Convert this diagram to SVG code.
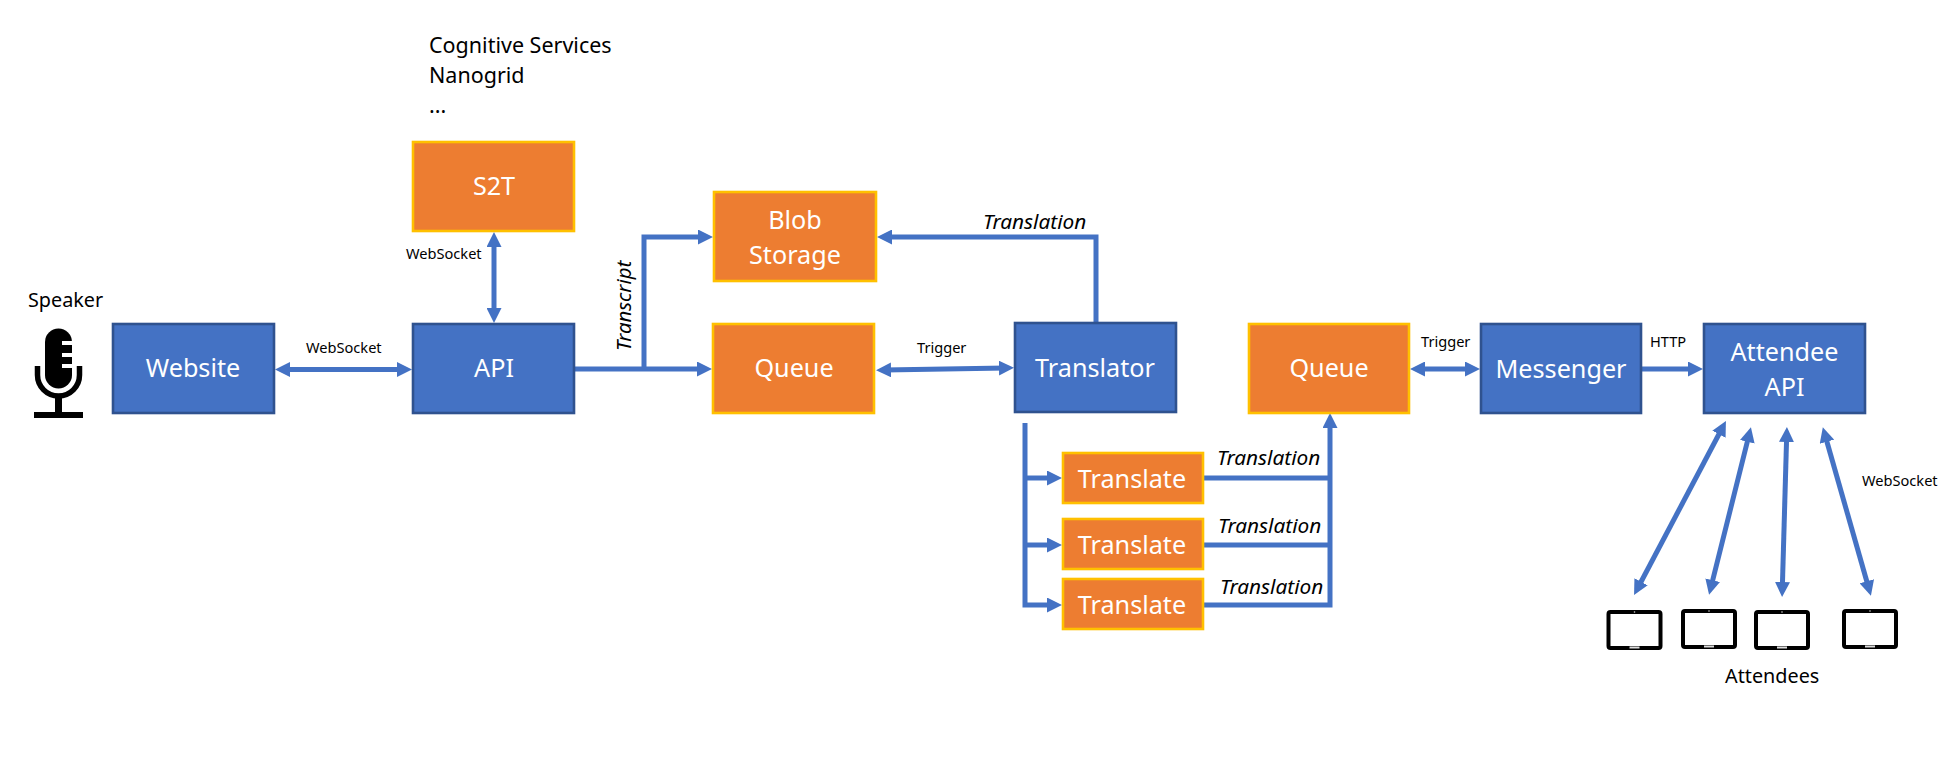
<svg xmlns="http://www.w3.org/2000/svg" width="1954" height="759" viewBox="0 0 1954 759">
<style>
text{font-family:"Noto Sans","Open Sans","Liberation Sans",sans-serif;fill:#000}
.b{fill:#4472C4;stroke:#2F528F;stroke-width:2.6}
.o{fill:#ED7D31;stroke:#FFC000;stroke-width:2.6}
.n{font-size:25.2px;fill:#fff;text-anchor:middle}
.s{font-size:14.6px}
.m{font-size:19.8px}
.l{font-size:21.5px}
.i{font-size:20.8px;font-style:italic}
.c{fill:none;stroke:#4472C4;stroke-width:5}
.e{marker-end:url(#a)}
.d{marker-start:url(#a);marker-end:url(#a)}
</style>
<defs>
<marker id="a" markerUnits="userSpaceOnUse" viewBox="0 0 15 15" markerWidth="15" markerHeight="15" refX="7" refY="7.5" orient="auto-start-reverse"><path d="M0,0L15,7.5L0,15z" fill="#4472C4"/></marker>
<g id="tablet"><rect x="2" y="2" width="52" height="36" rx="2" fill="#fff" stroke="#000" stroke-width="4"/><circle cx="28" cy="2" r="0.8" fill="#ccc"/><rect x="23" y="36.5" width="10" height="2" fill="#ddd"/></g>
</defs>
<g id="connectors">
<path class="c d" d="M283,369.5H404"/>
<path class="c d" d="M494,240V315"/>
<path class="c e" d="M575,369H704"/>
<path class="c e" d="M644,369V237H705"/>
<path class="c d" d="M884,370L1006,368"/>
<path class="c e" d="M1096,322V237H885"/>
<path class="c e" d="M1025,423V605H1054"/>
<path class="c e" d="M1025,478H1054"/>
<path class="c e" d="M1025,545H1054"/>
<path class="c e" d="M1204,605H1330V421"/>
<path class="c" d="M1204,478H1330"/>
<path class="c" d="M1204,545H1330"/>
<path class="c d" d="M1418,369H1472"/>
<path class="c e" d="M1641,369H1695"/>
<path class="c d" d="M1722.200,428L1637.800,588"/>
<path class="c d" d="M1749,435L1711,587"/>
<path class="c d" d="M1786.700,435L1782.300,589"/>
<path class="c d" d="M1825,435L1868.700,588"/>
</g>
<g id="speaker"><text class="m" x="28" y="307">Speaker</text>
<g id="mic"><path d="M45,342a13.500,13.500 0 0 1 27,0V375a13.500,13.500 0 0 1-27,0z" fill="#000"/>
<path d="M62,341h11v4h-11zM62,353h11v4h-11zM62,364h11v4h-11z" fill="#fff"/>
<path d="M37.500,366V375a21,21 0 0 0 42,0V366" fill="none" stroke="#000" stroke-width="5.500"/>
<path d="M55,396h7v17h-7zM34,412h49v6h-49z" fill="#000"/></g></g>
<g id="website"><rect class="b" x="113" y="324" width="161" height="89"/><text class="n" x="193" y="377">Website</text></g>
<g id="api"><rect class="b" x="413" y="324" width="161" height="89"/><text class="n" x="494" y="377">API</text></g>
<g id="s2t"><rect class="o" x="413" y="142" width="161" height="89"/><text class="n" x="494" y="195">S2T</text></g>
<g id="blob"><rect class="o" x="714" y="192" width="162" height="89"/><text class="n" x="795" y="229">Blob</text><text class="n" x="795" y="264">Storage</text></g>
<g id="queue1"><rect class="o" x="713" y="324" width="161" height="89"/><text class="n" x="794" y="377">Queue</text></g>
<g id="translator"><rect class="b" x="1015" y="323" width="161" height="89"/><text class="n" x="1095" y="377">Translator</text></g>
<g id="queue2"><rect class="o" x="1249" y="324" width="160" height="89"/><text class="n" x="1329" y="377">Queue</text></g>
<g id="messenger"><rect class="b" x="1481" y="324" width="160" height="89"/><text class="n" x="1561" y="378">Messenger</text></g>
<g id="attendee"><rect class="b" x="1704" y="324" width="161" height="89"/><text class="n" x="1784.500" y="361">Attendee</text><text class="n" x="1784.500" y="396">API</text></g>
<g id="translate1"><rect class="o" x="1063" y="453" width="140" height="50"/><text class="n" x="1132" y="488">Translate</text></g>
<g id="translate2"><rect class="o" x="1063" y="519" width="140" height="50"/><text class="n" x="1132" y="554">Translate</text></g>
<g id="translate3"><rect class="o" x="1063" y="579" width="140" height="50"/><text class="n" x="1132" y="614">Translate</text></g>
<g id="tablets"><use href="#tablet" x="1606.500" y="610"/><use href="#tablet" x="1681" y="609"/><use href="#tablet" x="1754" y="610"/><use href="#tablet" x="1842" y="609"/></g>
<g id="labels">
<text class="l" x="429" y="53">Cognitive Services</text>
<text class="l" x="429" y="83">Nanogrid</text>
<text class="l" x="429" y="113">...</text>
<text class="s" x="306" y="353">WebSocket</text>
<text class="s" x="406" y="259">WebSocket</text>
<text class="s" x="917" y="353">Trigger</text>
<text class="s" x="1421" y="347">Trigger</text>
<text class="s" x="1650" y="347">HTTP</text>
<text class="s" x="1862" y="486">WebSocket</text>
<text class="m" x="1725" y="683">Attendees</text>
<text class="i" x="983" y="229">Translation</text>
<text class="i" x="1217" y="465">Translation</text>
<text class="i" x="1218" y="533">Translation</text>
<text class="i" x="1220" y="594">Translation</text>
<text class="i" style="font-size:20.4px" transform="translate(631,351) rotate(-90)">Transcript</text>
</g>
</svg>
